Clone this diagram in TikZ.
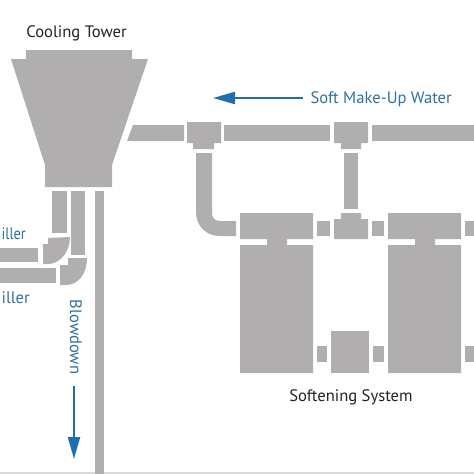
\documentclass[tikz,border=0pt]{standalone}
\usepackage{fontspec}
\setmainfont{PT Sans}
\usetikzlibrary{arrows.meta}
\definecolor{pipe}{HTML}{B0AEAF}
\definecolor{flow}{HTML}{1F6FAE}
\definecolor{lab}{HTML}{2F719F}
\definecolor{ink}{HTML}{222222}
\definecolor{edgeband}{HTML}{DADADA}
\tikzset{
  x=1pt,y=-1pt,
  part/.style={fill=pipe,draw=none},
  flowarrow/.style={draw=flow,line width=2.2pt,-{Triangle[length=22pt,width=12pt]}},
  bluetext/.style={text=lab,font=\fontsize{16.6}{18}\selectfont,inner sep=0pt},
  blacktext/.style={text=ink,font=\fontsize{16.6}{18}\selectfont,inner sep=0pt},
}
\begin{document}
\begin{tikzpicture}
\useasboundingbox (0,0) rectangle (474,474);
\fill[edgeband] (0,472) rectangle (474,474);
% tower
\fill[part] (26,50)--(132,50)--(132,59)--(148,59)--(112,165)--(112,187)--(45,187)--(45,165)--(11,59)--(26,59)--cycle;
% header
\fill[part] (133,125)--(184,125)--(184,141)--(127,141)--cycle;
\fill[part] (224,125) rectangle (330,141);
\fill[part] (372,125) rectangle (474,141);
% tees
\fill[part] (187,122)--(221,122)--(221,143)--(214,143)--(214,149)--(193,149)--(193,143)--(187,143)--cycle;
\fill[part] (334,122)--(368,122)--(368,143)--(361,143)--(361,149)--(341,149)--(341,143)--(334,143)--cycle;
\fill[part] (341,213)--(361,213)--(361,219)--(368,219)--(368,239)--(334,239)--(334,219)--(341,219)--cycle;
\fill[part] (344,153) rectangle (358,209);
% elbow
\fill[part] (196,153)--(212,153)--(212,213) .. controls (212,218) and (215,221) .. (220,221)--(236,221)--(236,236)--(220,236) .. controls (206,236) and (196,226) .. (196,212)--cycle;
% softeners
\fill[part] (240,213)--(313,213)--(313,239)--(287,239)--(287,245)--(313,245)--(313,373)--(240,373)--(240,245)--(267,245)--(267,239)--(240,239)--cycle;
\fill[part] (388,213)--(461,213)--(461,239)--(435,239)--(435,245)--(461,245)--(461,373)--(388,373)--(388,245)--(415,245)--(415,239)--(388,239)--cycle;
\fill[part] (317,221) rectangle (330,236);
\fill[part] (372,221) rectangle (384,236);
\fill[part] (465,221) rectangle (474,236);
\fill[part] (331,331) rectangle (369,373);
\fill[part] (317,346) rectangle (327,362);
\fill[part] (373,346) rectangle (384,362);
\fill[part] (465,346) rectangle (474,362);
% left pipes
\fill[part] (52,191) rectangle (67,233);
\fill[part] (71,191) rectangle (85,255);
\fill[part] (95,191) rectangle (104,474);
\fill[part] (0,248) rectangle (38,262);
\fill[part] (0,268) rectangle (56,283);
\fill[part] (48,238)--(70,237) .. controls (70,252) and (60,264) .. (48,264)--(43,264)--(43,244)--(48,244)--cycle;
\fill[part] (68,258)--(87,258) .. controls (87,274) and (78,285) .. (66,285)--(60,285)--(60,265)--(68,265)--cycle;
% labels
\node[blacktext,anchor=center] (tower) at (76.5,33) {Cooling Tower};
\node[blacktext,anchor=center] (soft) at (351,397) {Softening System};
\node[bluetext,anchor=east] (makeup) at (452,99) {Soft Make-Up Water};
\node[bluetext,anchor=east,xscale=0.86] (ch1) at (26,234) {iller};
\node[bluetext,anchor=east] (ch2) at (30,298) {iller};
\node[bluetext,anchor=center,rotate=-90] (blow) at (76,337) {Blowdown};
% arrows
\coordinate (a1s) at (303,98); \coordinate (a1e) at (213,98);
\coordinate (a2s) at (74,386); \coordinate (a2e) at (74,459);
\draw[flowarrow] (a1s)--(a1e);
\draw[flowarrow] (a2s)--(a2e);
\end{tikzpicture}
\end{document}
